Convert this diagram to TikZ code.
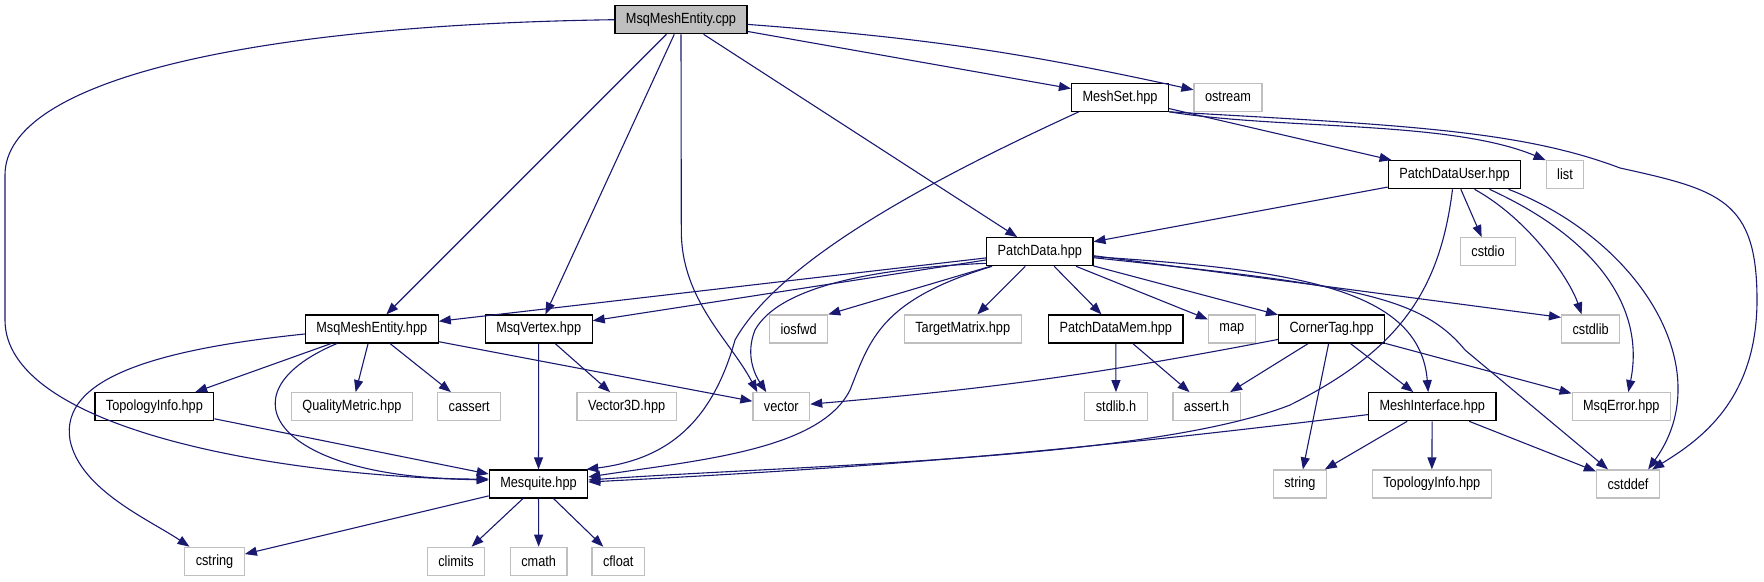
\documentclass[tikz,border=0pt]{standalone}
\usepackage{fontspec}
\setmainfont{Liberation Sans}[FakeStretch=0.86]
\usetikzlibrary{arrows.meta}
\definecolor{edgeblue}{RGB}{25,25,112}
\definecolor{boxgray}{RGB}{191,191,191}

\begin{document}
\begin{tikzpicture}[x=1pt, y=-1pt,
  every node/.style={font=\fontsize{14.8}{16}\selectfont, inner xsep=11pt,
                     inner ysep=0pt, minimum height=28pt, line width=1.2pt},
  rootbox/.style={draw=black, fill=boxgray},
  hdrbox/.style={draw=black, fill=white},
  sysbox/.style={draw=boxgray, fill=white},
  inc/.style={draw=edgeblue, line width=1.1pt,
              -{Triangle[length=12pt,width=9pt]}}]
  \useasboundingbox (0,0) rectangle (1764,581);

  \node (cpp)     [rootbox] at (681,19.7)    {MsqMeshEntity.cpp};
  \node (mset)    [hdrbox]  at (1120,97.2)   {MeshSet.hpp};
  \node (ostream) [sysbox]  at (1228,97.2)   {ostream};
  \node (pdu)     [hdrbox]  at (1454.5,174.7) {PatchDataUser.hpp};
  \node (list)    [sysbox]  at (1565,174.7)  {list};
  \node (pd)      [hdrbox]  at (1039.8,251.7) {PatchData.hpp};
  \node (cstdio)  [sysbox]  at (1488,251.7)  {cstdio};
  \node (mme)     [hdrbox]  at (371.8,329)   {MsqMeshEntity.hpp};
  \node (vtx)     [hdrbox]  at (538.7,329)   {MsqVertex.hpp};
  \node (iosfwd)  [sysbox]  at (798.6,329)   {iosfwd};
  \node (tmat)    [sysbox]  at (962.7,329)   {TargetMatrix.hpp};
  \node (pdmem)   [hdrbox]  at (1115.8,329)  {PatchDataMem.hpp};
  \node (map)     [sysbox]  at (1231.8,329)  {map};
  \node (ctag)    [hdrbox]  at (1331.6,329)  {CornerTag.hpp};
  \node (cstdlib) [sysbox]  at (1590.6,329)  {cstdlib};
  \node (topo)    [hdrbox]  at (154.4,406.7) {TopologyInfo.hpp};
  \node (qm)      [sysbox]  at (351.9,406.7) {QualityMetric.hpp};
  \node (cassert) [sysbox]  at (469.2,406.7) {cassert};
  \node (v3d)     [sysbox]  at (626.6,406.7) {Vector3D.hpp};
  \node (vector)  [sysbox]  at (781.3,406.7) {vector};
  \node (stdlibh) [sysbox]  at (1116,406.7)  {stdlib.h};
  \node (asserth) [sysbox]  at (1206.6,406.7) {assert.h};
  \node (mif)     [hdrbox]  at (1432.2,406.7) {MeshInterface.hpp};
  \node (msqerr)  [sysbox]  at (1621.3,406.7) {MsqError.hpp};
  \node (msq)     [hdrbox]  at (538.5,484)   {Mesquite.hpp};
  \node (string)  [sysbox]  at (1299.9,484)  {string};
  \node (topo2)   [sysbox]  at (1431.8,484)  {TopologyInfo.hpp};
  \node (cstddef) [sysbox]  at (1628,484)    {cstddef};
  \node (cstring) [sysbox]  at (214.5,561.3) {cstring};
  \node (climits) [sysbox]  at (456,561.3)   {climits};
  \node (cmath)   [sysbox]  at (538.7,561.3) {cmath};
  \node (cfloat)  [sysbox]  at (618.3,561.3) {cfloat};

  \draw[inc] (cpp.west) .. controls (250,25) and (5,80) .. (5,175)
             -- (5,320) .. controls (5,425) and (260,475) .. ([yshift=4pt]msq.west);
  \draw[inc] (cpp) -- (mme);
  \draw[inc] (cpp) -- (vtx);
  \draw[inc] (cpp.south) -- (681.3,230) .. controls (681,300) and (730,340)
             .. ([xshift=-24pt]vector.north);
  \draw[inc] (cpp) -- (pd);
  \draw[inc] (cpp) -- (mset);
  \draw[inc] (cpp) to[bend left=4] (ostream);

  \draw[inc] ([xshift=8pt]mset.south west) .. controls (930,180) and (780,260) .. (735,340)
             .. controls (710,430) and (660,460) .. ([xshift=-2pt]msq.north east);
  \draw[inc] (mset) -- (pdu);
  \draw[inc] (mset.south east) .. controls (1280,130) and (1450,120) .. (list.north west);
  \draw[inc] (mset.south east) .. controls (1400,125) and (1520,130) .. (1620,168)
             .. controls (1720,190) and (1757,200) .. (1757,300)
             .. controls (1757,400) and (1700,440) .. ([xshift=-8pt]cstddef.north east);

  \draw[inc] (pdu) -- (pd);
  \draw[inc] ([xshift=-2pt]pdu.south) .. controls (1440,290) and (1400,350) .. (1290,405)
             .. controls (1150,460) and (800,465) .. ([yshift=4pt]msq.east);
  \draw[inc] (pdu) -- (cstdio);
  \draw[inc] ([xshift=20pt]pdu.south) .. controls (1530,220) and (1570,280)
             .. ([xshift=-9pt]cstdlib.north);
  \draw[inc] ([xshift=35pt]pdu.south) .. controls (1600,240) and (1645,310)
             .. ([xshift=7pt]msqerr.north);
  \draw[inc] ([xshift=54pt]pdu.south) .. controls (1640,240) and (1720,370)
             .. ([xshift=-12pt]cstddef.north east);

  \draw[inc] (pd) -- (mme);
  \draw[inc] (pd) -- (vtx);
  \draw[inc] ([yshift=3pt]pd.south west) .. controls (880,268) and (780,285) .. (755,330)
             .. controls (745,355) and (755,375) .. ([xshift=-15pt]vector.north);
  \draw[inc] ([xshift=6pt]pd.south west) .. controls (880,300) and (870,340) .. (850,390)
             .. controls (820,450) and (700,460) .. ([yshift=7pt]msq.east);
  \draw[inc] (pd) -- (iosfwd.north east);
  \draw[inc] (pd) -- (tmat);
  \draw[inc] (pd) -- (pdmem);
  \draw[inc] (pd) -- (map);
  \draw[inc] (pd) -- (ctag);
  \draw[inc] ([yshift=-5pt]pd.east) .. controls (1300,270) and (1420,290)
             .. ([xshift=-4pt]mif.north);
  \draw[inc] ([yshift=-6pt]pd.east) .. controls (1350,285) and (1420,295) .. (1465,350)
             -- ([xshift=-20pt]cstddef.north);
  \draw[inc] ([yshift=-4pt]pd.east) -- ([yshift=-3pt]cstdlib.north west);

  \draw[inc] (mme) -- (topo);
  \draw[inc] (mme) -- (qm);
  \draw[inc] (mme) -- (cassert);
  \draw[inc] (mme) -- (vector);
  \draw[inc] ([xshift=-35pt]mme.south) .. controls (215,395) and (280,480)
             .. ([yshift=5pt]msq.west);
  \draw[inc] ([yshift=-5pt]mme.west) .. controls (150,350) and (60,380) .. (70,440)
             .. controls (80,490) and (150,520) .. ([xshift=-25pt]cstring.north);

  \draw[inc] (vtx) -- (msq);
  \draw[inc] (vtx) -- (v3d);
  \draw[inc] (topo) -- (msq);
  \draw[inc] (pdmem) -- (stdlibh);
  \draw[inc] (pdmem) -- (asserth);

  \draw[inc] (ctag) to[bend left=3] (vector);
  \draw[inc] (ctag) -- (asserth);
  \draw[inc] (ctag) -- (string);
  \draw[inc] (ctag) -- (mif);
  \draw[inc] (ctag) -- (msqerr);

  \draw[inc] (mif) to[bend left=2] ([yshift=2pt]msq.east);
  \draw[inc] (mif) -- (string);
  \draw[inc] (mif) -- (topo2);
  \draw[inc] (mif) -- (cstddef);

  \draw[inc] (msq) -- (cstring);
  \draw[inc] (msq) -- (climits);
  \draw[inc] (msq) -- (cmath);
  \draw[inc] (msq) -- (cfloat);
\end{tikzpicture}
\end{document}
